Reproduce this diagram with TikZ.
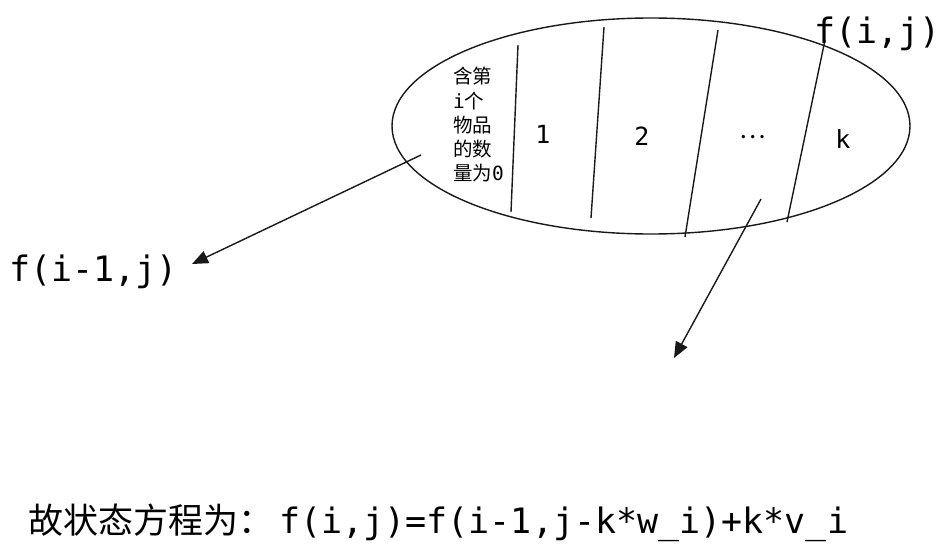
\documentclass[tikz,border=0pt]{standalone}
\usepackage{fontspec}
\setmonofont{DejaVu Sans Mono}
\newfontfamily\cjk{Noto Sans CJK SC}
\newfontfamily\mono{DejaVu Sans Mono}
\usetikzlibrary{arrows.meta,shapes.geometric}
\begin{document}
\begin{tikzpicture}[x=1pt,y=-1pt,
  ln/.style={line width=1.4pt,black!90},
  arr/.style={ln,-{Triangle[length=16pt,width=13pt]}},
  big/.style={inner sep=0pt,font=\fontsize{35}{36}\mono},
  mid/.style={inner sep=0pt,font=\fontsize{25}{28}\mono},
  small/.style={inner sep=0pt,font=\fontsize{19.5}{22}\mono}]
\useasboundingbox (0,0) rectangle (951,551);
\node[ln,draw,ellipse,minimum width=518pt,minimum height=216pt,inner sep=0pt] (e) at (651,126) {};
% dividers
\coordinate (d1a) at (518,45); \coordinate (d1b) at (511,212);
\coordinate (d2a) at (604,27); \coordinate (d2b) at (591,218);
\coordinate (d3a) at (718,30); \coordinate (d3b) at (685,237);
\coordinate (d4a) at (825,40); \coordinate (d4b) at (787,222);
\draw[ln] (d1a) -- (d1b);
\draw[ln] (d2a) -- (d2b);
\draw[ln] (d3a) -- (d3b);
\draw[ln] (d4a) -- (d4b);
% labels inside
\node[small,anchor=base west] (t1) at (453,84) {{\cjk 含第}};
\node[small,anchor=base west] (t2) at (453,108) {i{\cjk 个}};
\node[small,anchor=base west] (t3) at (453,132) {{\cjk 物品}};
\node[small,anchor=base west] (t4) at (453,156) {{\cjk 的数}};
\node[small,anchor=base west] (t5) at (453,180) {{\cjk 量为}0};
\node[mid,anchor=base] (n1) at (543,143) {1};
\node[mid,anchor=base] (n2) at (642,145) {2};
\node[mid,anchor=base] (n3) at (753,138) {{\cjk ⋯}};
\node[mid,anchor=base] (n4) at (843,148) {k};
% outer labels
\node[big,anchor=base west] (fij) at (814,44) {f(i,j)};
\node[big,anchor=base west] (fi1) at (9,281) {f(i-1,j)};
\node[big,anchor=base west] (eq) at (28,533) {{\cjk 故状态方程为：}\hspace{6pt}f(i,j)=f(i-1,j-k*w\_i)+k*v\_i};
% arrows
\coordinate (a1s) at (421,155); \coordinate (a1e) at (192,264);
\coordinate (a2s) at (761,199); \coordinate (a2e) at (674,358);
\draw[arr] (a1s) -- (a1e);
\draw[arr] (a2s) -- (a2e);
\end{tikzpicture}
\end{document}
